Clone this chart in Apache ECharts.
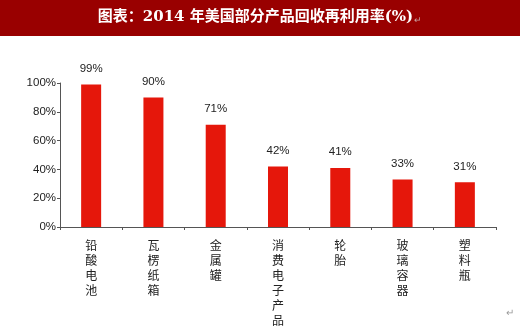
<!DOCTYPE html>
<html><head><meta charset="utf-8">
<script src="https://cdn.jsdelivr.net/npm/echarts@6/dist/echarts.min.js"></script>
<style>html,body{margin:0;padding:0;background:#fff}#c{width:520px;height:328px}</style>
</head><body><div id="c"></div>
<script>
const categories = ['铅酸电池','瓦楞纸箱','金属罐','消费电子产品','轮胎','玻璃容器','塑料瓶'];
const values = [99, 90, 71, 42, 41, 33, 31];
const yTicks = [0, 20, 40, 60, 80, 100];
const titleText = '图表：2014 年美国部分产品回收再利用率(%)';

const chart = echarts.init(document.getElementById('c'));
chart.setOption({
  animation: false,
  backgroundColor: '#fff',
  graphic: [
    {type:'rect', left:0, top:0, shape:{width:520, height:36}, style:{fill:'#990000'}},
    {type:'text', left:'center', top:10, style:{
      text: '{t|' + titleText + '}{r|↵}',
      rich:{
        t:{fill:'#fff', color:'#fff', fontSize:15, fontWeight:'bold', fontFamily:'"DejaVu Serif", "Noto Sans CJK SC", serif'},
        r:{fill:'#c8a0a0', color:'#c8a0a0', fontSize:9, fontFamily:'sans-serif', padding:[6,0,0,1]}
      }
    }},
    {type:'text', right:6, top:308, style:{text:'↵', fill:'#999', font:'10px sans-serif'}}
  ],
  grid: {left:60, right:24, top:83, bottom:99},
  xAxis: {
    type:'category', data: categories,
    axisLine:{lineStyle:{color:'#555', width:1}},
    axisTick:{show:true, length:3, lineStyle:{color:'#555'}},
    axisLabel:{
      interval:0, margin:11, color:'#222', fontSize:12, lineHeight:15,
      fontFamily:'"Noto Sans CJK SC", serif',
      formatter: v => v.split('').join('\n'),
      verticalAlign:'top'
    }
  },
  yAxis: {
    type:'value', min: yTicks[0], max: yTicks[yTicks.length-1], interval: 20,
    splitLine:{show:false},
    axisLine:{show:true, lineStyle:{color:'#555', width:1}},
    axisTick:{show:true, length:3, lineStyle:{color:'#555'}},
    axisLabel:{formatter:'{value}%', color:'#222', fontSize:11.5, margin:4, fontFamily:'"Liberation Sans", Arial, sans-serif'}
  },
  series: [{
    type:'bar', data: values, barWidth:20,
    itemStyle:{color:'#E5170B'},
    label:{show:true, position:'top', distance:10, formatter:'{c}%', color:'#222', fontSize:11.5,
      fontFamily:'"Liberation Sans", Arial, sans-serif'}
  }]
});
</script></body></html>
